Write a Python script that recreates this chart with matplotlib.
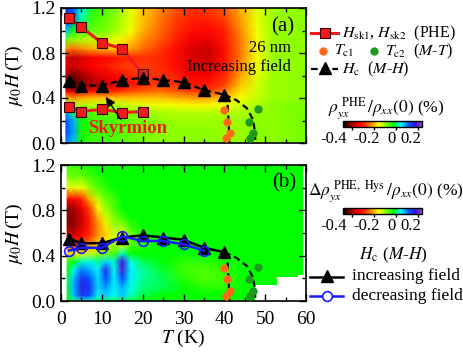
import numpy as np
import matplotlib
matplotlib.use("Agg")
import matplotlib.pyplot as plt
from matplotlib.colors import LinearSegmentedColormap

plt.rcParams['font.family'] = ['Liberation Serif', 'DejaVu Serif']
plt.rcParams['mathtext.fontset'] = 'stix'

# ---------------- data ----------------
B = -0.02
top_T = [1.2, 3, 5, 8, 11, 14, 17, 20, 24, 28, 32, 36, 40, 44, 48, 52, 60]
top_H = [0, 0.1, 0.2, 0.28, 0.34, 0.4, 0.46, 0.52, 0.6, 0.68, 0.76, 0.84, 0.92, 1.0, 1.1, 1.2]
top_Z = [
    [0.1, 0.07, -0.03, -0.05, -0.05, -0.06, -0.07, -0.08, -0.09, -0.09, -0.09, -0.09, -0.09, -0.1, -0.09, -0.09, -0.08],
    [0.13, 0.09, -0.02, -0.05, -0.05, -0.06, -0.07, -0.08, -0.09, -0.09, -0.09, -0.09, -0.1, -0.1, -0.09, -0.09, -0.08],
    [0.13, 0.08, -0.02, -0.05, -0.05, -0.06, -0.07, -0.08, -0.09, -0.1, -0.1, -0.1, -0.1, -0.1, -0.09, -0.09, -0.08],
    [0.08, 0.0, -0.06, -0.07, -0.07, -0.08, -0.09, -0.1, -0.11, -0.12, -0.12, -0.12, -0.12, -0.11, -0.1, -0.09, -0.08],
    [-0.07, -0.11, -0.12, -0.12, -0.12, -0.12, -0.13, -0.14, -0.15, -0.15, -0.16, -0.16, -0.15, -0.13, -0.11, -0.09, -0.08],
    [-0.2, -0.22, -0.2, -0.19, -0.19, -0.19, -0.19, -0.19, -0.19, -0.2, -0.21, -0.21, -0.19, -0.15, -0.12, -0.1, -0.09],
    [-0.34, -0.36, -0.33, -0.31, -0.3, -0.28, -0.26, -0.25, -0.24, -0.25, -0.27, -0.27, -0.23, -0.17, -0.13, -0.1, -0.09],
    [-0.42, -0.45, -0.42, -0.39, -0.37, -0.35, -0.32, -0.29, -0.27, -0.28, -0.31, -0.31, -0.27, -0.19, -0.13, -0.1, -0.09],
    [-0.4, -0.43, -0.4, -0.36, -0.35, -0.33, -0.29, -0.28, -0.28, -0.3, -0.34, -0.34, -0.29, -0.21, -0.14, -0.1, -0.09],
    [-0.35, -0.37, -0.35, -0.33, -0.31, -0.28, -0.27, -0.27, -0.28, -0.32, -0.36, -0.36, -0.31, -0.22, -0.15, -0.1, -0.09],
    [-0.36, -0.38, -0.36, -0.34, -0.33, -0.31, -0.29, -0.28, -0.29, -0.32, -0.36, -0.37, -0.32, -0.23, -0.15, -0.1, -0.09],
    [-0.22, -0.24, -0.22, -0.2, -0.19, -0.19, -0.21, -0.24, -0.27, -0.32, -0.36, -0.37, -0.32, -0.23, -0.15, -0.1, -0.09],
    [-0.07, -0.1, -0.11, -0.12, -0.13, -0.15, -0.18, -0.22, -0.25, -0.3, -0.34, -0.35, -0.31, -0.23, -0.15, -0.1, -0.09],
    [0.07, -0.02, -0.06, -0.07, -0.08, -0.11, -0.15, -0.2, -0.24, -0.28, -0.32, -0.33, -0.3, -0.22, -0.15, -0.1, -0.09],
    [0.15, 0.11, 0.02, -0.05, -0.07, -0.1, -0.14, -0.19, -0.23, -0.27, -0.3, -0.3, -0.27, -0.21, -0.14, -0.1, -0.09],
    [0.16, 0.12, 0.04, -0.04, -0.06, -0.09, -0.14, -0.19, -0.22, -0.25, -0.28, -0.27, -0.25, -0.2, -0.14, -0.1, -0.09],
]

bot_T = [1.5, 3, 5, 7, 9, 11, 13, 15, 17, 20, 25, 30, 35, 40, 45, 50, 59.2]
bot_H = [0, 0.05, 0.12, 0.2, 0.28, 0.35, 0.42, 0.5, 0.58, 0.66, 0.74, 0.82, 0.9, 1.0, 1.1, 1.2]
bot_Z = [
    [-0.02, 0.0, 0.04, 0.04, 0.0, 0.01, 0.0, 0.01, -0.01, B, B, B, B, B, B, B, B],
    [-0.01, 0.07, 0.15, 0.13, 0.05, 0.07, 0.04, 0.07, 0.03, 0.0, B, B, B, B, B, B, B],
    [0.0, 0.08, 0.16, 0.15, 0.06, 0.09, 0.05, 0.08, 0.04, 0.01, 0.0, B, -0.04, -0.04, B, B, B],
    [0.0, 0.07, 0.15, 0.12, 0.06, 0.13, 0.05, 0.13, 0.05, 0.02, 0.0, -0.04, -0.06, -0.05, B, B, B],
    [-0.02, 0.04, 0.1, 0.08, 0.05, 0.15, 0.04, 0.19, 0.05, 0.02, -0.01, -0.05, -0.06, -0.04, B, B, B],
    [-0.05, -0.02, 0.03, 0.04, 0.02, 0.06, 0.03, 0.18, 0.04, 0.0, -0.02, -0.04, -0.04, -0.03, B, B, B],
    [-0.17, -0.17, -0.15, -0.13, -0.1, -0.08, -0.05, 0.03, -0.02, B, B, B, B, B, B, B, B],
    [-0.3, -0.3, -0.27, -0.22, -0.18, -0.14, -0.1, -0.15, -0.06, -0.04, B, B, B, B, B, B, B],
    [-0.37, -0.36, -0.33, -0.28, -0.22, -0.18, -0.13, -0.16, -0.07, -0.04, B, B, B, B, B, B, B],
    [-0.41, -0.41, -0.36, -0.3, -0.22, -0.17, -0.1, -0.1, -0.05, B, B, B, B, B, B, B, B],
    [-0.41, -0.41, -0.37, -0.3, -0.2, -0.13, -0.08, -0.05, B, B, B, B, B, B, B, B, B],
    [-0.4, -0.4, -0.35, -0.27, -0.16, -0.1, -0.06, B, B, B, B, B, B, B, B, B, B],
    [-0.33, -0.33, -0.3, -0.2, -0.12, -0.07, -0.05, B, B, B, B, B, B, B, B, B, B],
    [-0.15, -0.14, -0.15, -0.1, -0.06, -0.04, B, B, B, B, B, B, B, B, B, B, B],
    [-0.08, -0.07, -0.07, -0.05, -0.04, B, B, B, B, B, B, B, B, B, B, B, B],
    [-0.05, -0.05, -0.04, -0.03, B, B, B, B, B, B, B, B, B, B, B, B, B],
]
# empty (no data) region of panel (b), lower right
mask_T = [47.5, 53, 58, 60]
mask_H = [0.14, 0.21, 0.23, 0.23]

sk_T = [2, 5, 10, 15, 20]
sk_H1 = [0.32, 0.28, 0.30, 0.27, 0.28]
sk_H2 = [1.11, 1.03, 0.89, 0.84, 0.61]

hc_T = [2, 5, 10, 15, 20, 25, 30, 35, 40]
hc_inc = [0.55, 0.51, 0.51, 0.56, 0.58, 0.56, 0.54, 0.47, 0.43]
hc_dec_T = [2, 5, 10, 15, 20, 25, 30, 35]
hc_dec = [0.445, 0.47, 0.47, 0.57, 0.53, 0.53, 0.50, 0.445]

tc1_T = [40.0, 40.6, 41.5, 40.4]
tc1_H = [0.29, 0.19, 0.09, 0.045]
tc2_T = [48.3, 46.1, 47.1, 46.3]
tc2_H = [0.30, 0.19, 0.09, 0.045]

bnd1_T = [40, 40.8, 41.1, 41.2]
bnd1_H = [0.43, 0.34, 0.15, 0.0]
bnd2_T = [40, 43, 45.5, 47, 47.5, 47.6]
bnd2_H = [0.43, 0.38, 0.31, 0.21, 0.1, 0.0]

cbar_ticks = [-0.4, -0.2, 0, 0.2]
cbar_labels = ['-0.4', '-0.2', '0', '0.2']
VMIN, VMAX = -0.48, 0.24

# ---------------- style ----------------
cmap = LinearSegmentedColormap.from_list('phe', [
    (0.0, '#000000'), (0.09, '#8a0000'), (0.2, '#ff0000'), (0.28, '#ff3000'),
    (0.37, '#ff9900'), (0.45, '#ffff00'), (0.55, '#80ff00'), (0.64, '#00ff00'),
    (0.73, '#00ffff'), (0.84, '#0050ff'), (0.92, '#4010e0'), (1.0, '#9040c0')])

W, Hh = 463, 354
fig = plt.figure(figsize=(W / 100, Hh / 100), dpi=100)

def px_axes(x0, y0, x1, y1):
    return fig.add_axes([x0 / W, 1 - y1 / Hh, (x1 - x0) / W, (y1 - y0) / Hh])

axA = px_axes(61, 8, 306, 143)
axB = px_axes(61, 165, 306, 301)

for ax in (axA, axB):
    ax.set_xlim(0, 60)
    ax.set_ylim(0, 1.2)
    ax.set_xticks(np.arange(0, 61, 10))
    ax.set_xticks(np.arange(0, 61, 5), minor=True)
    ax.set_yticks([0, 0.4, 0.8, 1.2])
    ax.set_yticks(np.arange(0, 1.21, 0.2), minor=True)
    ax.tick_params(which='both', direction='in', top=True, right=True, labelsize=14, width=1)
    ax.tick_params(which='major', length=5)
    ax.tick_params(which='minor', length=3)
    ax.tick_params(axis='x', pad=7)
    ax.tick_params(axis='y', pad=4)
    ax.set_yticklabels(['0.0', '0.4', '0.8', '1.2'])
    for s in ax.spines.values():
        s.set_linewidth(1.2)
    ax.set_ylabel(r'$\mu_0H\,$(T)', fontsize=14, labelpad=4)

axA.tick_params(axis='x', labelbottom=False)
axB.set_xlabel(r'$T$ (K)', fontsize=14, labelpad=0)

# heatmaps
mA = axA.pcolormesh(top_T, top_H, np.array(top_Z), shading='gouraud', cmap=cmap,
                    vmin=VMIN, vmax=VMAX, zorder=0, rasterized=True)
mB = axB.pcolormesh(bot_T, bot_H, np.array(bot_Z), shading='gouraud', cmap=cmap,
                    vmin=VMIN, vmax=VMAX, zorder=0, rasterized=True)
axB.fill_between(mask_T, 0, mask_H, step='post', color='white', lw=0, zorder=0.5)

dash = (3, 1.8)
orange = '#ff6a1a'
green = '#1f9a1f'
red = '#ee1c1c'

# panel (a)
for hs in (sk_H1, sk_H2):
    axA.plot(sk_T, hs, '-s', color=red, lw=2.2, ms=6.5, mfc=red, mec='#3a0000', mew=0.8, zorder=3)
axA.plot(hc_T, hc_inc, '--^', color='k', lw=1.6, dashes=dash, ms=8, zorder=3)
axA.plot(bnd1_T, bnd1_H, '--', color='k', lw=1.6, dashes=dash, zorder=2)
axA.plot(bnd2_T, bnd2_H, '--', color='k', lw=1.6, dashes=dash, zorder=2)
axA.plot(tc1_T, tc1_H, 'o', color=orange, ms=6, mew=0, zorder=3)
axA.plot(tc2_T, tc2_H, 'o', color=green, ms=6, mew=0, zorder=3)
axA.annotate('', xy=(10.6, 0.43), xytext=(15.0, 0.19),
             arrowprops=dict(arrowstyle='-|>', color='k', lw=1.0, mutation_scale=14), zorder=4)
axA.text(16.3, 0.13, 'Skyrmion', color=red, fontsize=13.5, fontweight='bold',
         ha='center', va='center', zorder=4)
axA.text(0.905, 0.86, '(a)', transform=axA.transAxes, fontsize=15, ha='center', va='center')
axA.text(0.94, 0.70, '26 nm', transform=axA.transAxes, fontsize=12, ha='right', va='center')
axA.text(0.94, 0.56, 'Increasing field', transform=axA.transAxes, fontsize=12, ha='right', va='center')

# panel (b)
axB.plot(hc_T, hc_inc, '-^', color='k', lw=1.8, ms=8, zorder=3)
axB.plot(hc_dec_T, hc_dec, '-o', color='#1a1aff', lw=1.8, ms=7, mfc='none', mew=1.2, zorder=4)
axB.plot(bnd1_T, bnd1_H, '--', color='k', lw=1.6, dashes=dash, zorder=2)
axB.plot(bnd2_T, bnd2_H, '--', color='k', lw=1.6, dashes=dash, zorder=2)
axB.plot(tc1_T, tc1_H, 'o', color=orange, ms=6, mew=0, zorder=3)
axB.plot(tc2_T, tc2_H, 'o', color=green, ms=6, mew=0, zorder=3)
axB.text(0.91, 0.87, '(b)', transform=axB.transAxes, fontsize=15, ha='center', va='center')

# colorbars
for (y0, mappable) in ((121, mA), (208, mB)):
    cax = px_axes(343, y0, 422, y0 + 6)
    cb = fig.colorbar(mappable, cax=cax, orientation='horizontal', ticks=cbar_ticks)
    cb.ax.tick_params(labelbottom=False, length=2.5, width=1)
    cb.outline.set_linewidth(1)

# overlay for legend-like annotations (pixel coordinates)
ov = fig.add_axes([0, 0, 1, 1])
ov.set_xlim(0, W)
ov.set_ylim(Hh, 0)
ov.axis('off')

for yl in (139, 226):
    for xl, lab in zip([334, 367, 392, 411], cbar_labels):
        ov.text(xl, yl, lab, fontsize=12, ha='center', va='center')

ov.plot([311, 338], [33, 33], '-', color=red, lw=2.2)
ov.plot([324.5], [33], 's', color=red, ms=6.5, mec='#3a0000', mew=0.8)
ov.text(342, 33, r'$H_{\rm sk1}$, $H_{\rm sk2}$  (PHE)', fontsize=11.5, va='center')
ov.plot([323], [51], 'o', color=orange, ms=6, mew=0)
ov.text(334, 51, r'$T_{\rm c1}$', fontsize=11.5, va='center')
ov.plot([374], [51], 'o', color=green, ms=6, mew=0)
ov.text(385, 51, r'$T_{\rm c2}$  ($M$-$T$)', fontsize=11.5, va='center')
ov.plot([311, 338], [69, 69], '--', color='k', lw=1.6, dashes=(3, 1.8))
ov.plot([324.5], [68], '^', color='k', ms=8)
ov.text(342, 69, r'$H_{\rm c}$  ($M$-$H$)', fontsize=11.5, va='center')

ov.text(386, 108, r'$\rho_{yx}^{\ \rm PHE}\,/\rho_{xx}(0)$ (%)', fontsize=12.5, ha='center', va='center')
ov.text(386, 191, r'$\mathit{\Delta}\rho_{yx}^{\ \rm PHE,\ Hys}\,/\rho_{xx}(0)$ (%)', fontsize=12.5, ha='center', va='center')

ov.text(393, 255, r'$H_{\rm c}$ ($M$-$H$)', fontsize=12.5, ha='center', va='center')
ov.plot([310, 343], [277, 277], '-', color='k', lw=1.8)
ov.plot([326.5], [276], '^', color='k', ms=8)
ov.text(352, 276, 'increasing field', fontsize=12.5, va='center')
ov.plot([310, 343], [296, 296], '-', color='#1a1aff', lw=1.8)
ov.plot([326.5], [296], 'o', color='#1a1aff', ms=7, mfc='white', mew=1.2)
ov.text(352, 296, 'decreasing field', fontsize=12.5, va='center')

fig.savefig('out.png', dpi=100)
